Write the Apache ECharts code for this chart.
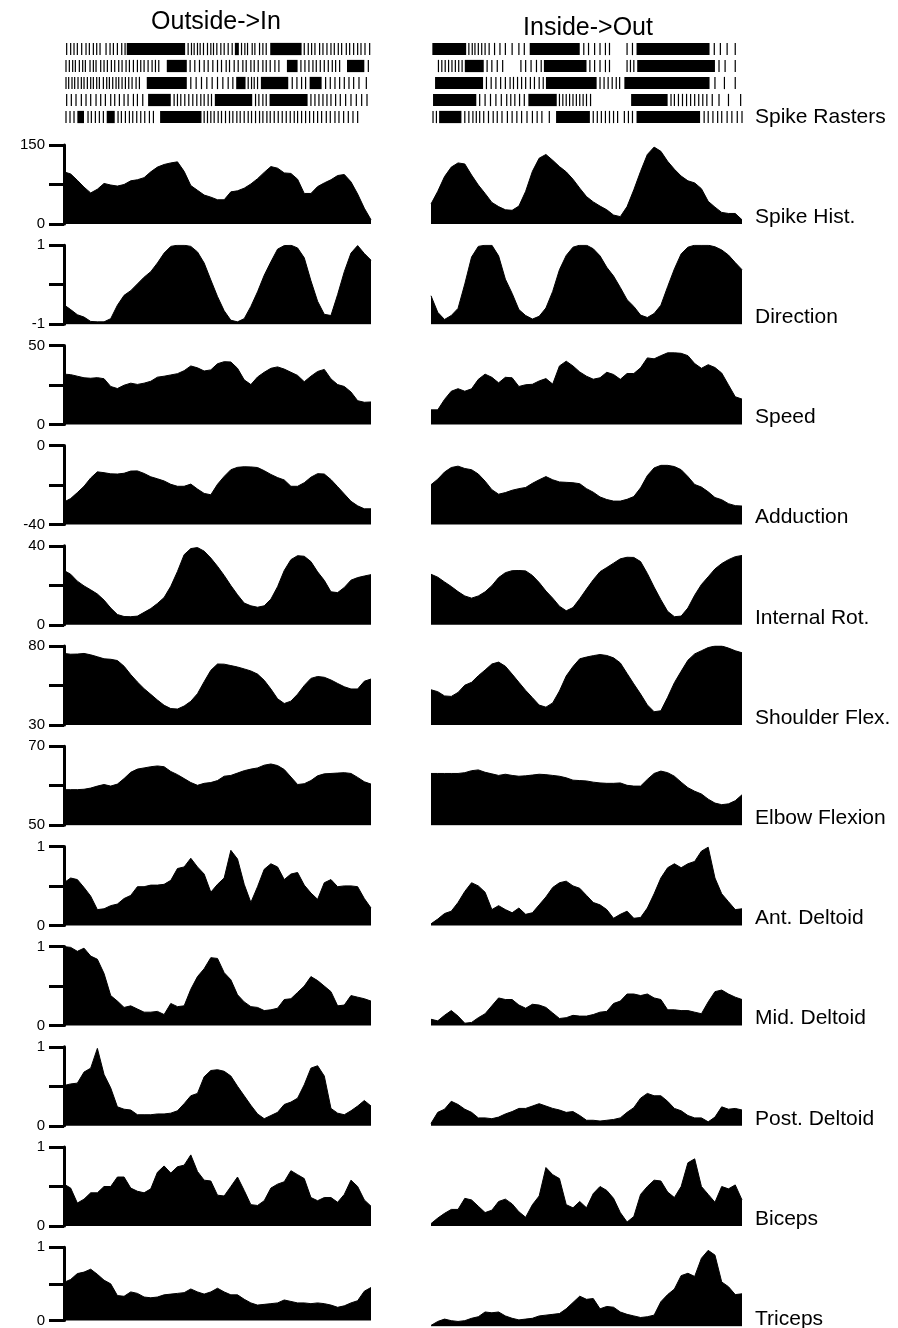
<!DOCTYPE html>
<html>
<head>
<meta charset="utf-8">
<script src="https://cdn.jsdelivr.net/npm/echarts@6/dist/echarts.min.js"></script>
<style>html,body{margin:0;background:#fff}#c{width:898px;height:1328px}</style>
</head>
<body>
<div id="c"></div>
<script>
// 两个方向的试次：oi = Outside->In（左列），io = Inside->Out（右列），每条曲线 47 个等距采样
const oiSpike = [99,95,83,70,59,66,77,74,72,75,82,84,88,99,108,113,116,118,100,73,64,55,51,46,46,61,63,68,76,86,98,109,106,97,96,85,58,58,71,78,84,92,94,80,57,30,8];
const ioSpike = [38,62,90,108,116,114,93,74,58,41,33,27,26,34,62,100,125,132,121,109,99,85,68,52,42,34,27,17,14,33,65,100,132,146,138,119,104,91,82,78,67,43,32,22,20,20,8];
const oiDir = [-0.51,-0.63,-0.76,-0.82,-0.93,-0.94,-0.94,-0.86,-0.52,-0.27,-0.15,0.02,0.19,0.33,0.55,0.8,0.97,1.0,1.0,0.97,0.83,0.55,0.12,-0.3,-0.66,-0.9,-0.94,-0.86,-0.55,-0.18,0.24,0.58,0.9,0.99,1.0,0.93,0.68,0.1,-0.42,-0.75,-0.78,-0.25,0.33,0.8,0.99,0.79,0.62];
const ioDir = [-0.28,-0.7,-0.88,-0.78,-0.6,0.02,0.7,0.97,1.0,1.0,0.73,0.14,-0.22,-0.63,-0.78,-0.87,-0.8,-0.59,-0.17,0.38,0.74,0.95,1.0,1.0,0.91,0.73,0.44,0.22,-0.07,-0.38,-0.55,-0.77,-0.83,-0.73,-0.52,-0.05,0.4,0.78,0.95,1.0,1.0,1.0,0.96,0.88,0.75,0.56,0.38];
const oiSpeed = [31.8,31.5,30.5,29.5,29.2,29.6,28.9,24,22.7,24.8,26.1,25.3,26.1,27.3,29.9,30.5,31.3,32.1,34,37,35.8,33.8,34.5,38.4,39.7,39.5,35.5,28.2,25.2,30,33,35.5,36.4,35,33,31,27,30.5,33.5,34.8,28.8,25.2,24,20.5,15,14,14.2];
const ioSpeed = [9.2,9.2,15.8,21,22.6,21,22.5,28.5,31.8,29.8,26.3,29.8,29.5,24,25.1,25.4,27.5,29,25.5,37,40,37,33.2,30.5,28.6,29.5,33,31.6,28.5,32.2,32.2,35.8,42.1,41.5,43.5,45.3,45.3,45,43.5,38.5,35.5,37.8,36,32.5,25,17.5,16];
const oiAdd = [-28.6,-26.8,-23.8,-20.6,-16.4,-13.3,-13.7,-14.3,-14.4,-14,-12.9,-12.8,-14.1,-15.8,-16.8,-17.9,-19.6,-20.6,-20.6,-19.5,-22,-24.2,-24.9,-19.6,-15.6,-12.2,-11,-10.7,-10.8,-11.1,-12.7,-14.6,-16.2,-17.4,-20.6,-20.6,-18.8,-16,-14.2,-14.4,-17.2,-20.8,-24.5,-28.2,-30.5,-32,-32];
const ioAdd = [-19.8,-17,-13.4,-11.1,-10.4,-11.6,-12.2,-14.4,-18,-22.3,-24.6,-23.8,-22.6,-21.8,-21.2,-19.1,-17.3,-15.7,-17.3,-18.4,-18.6,-18.8,-19.3,-21.8,-23.6,-26,-27.3,-28.1,-28.1,-27.2,-25.8,-21.4,-15.2,-11.3,-10,-10,-10.6,-12.2,-15.7,-19.7,-21,-23.4,-26.3,-27.4,-29.4,-30.4,-30.6];
const oiRot = [27.5,25.6,22.1,19.7,17.7,15.6,12.5,8.5,5.2,4.2,4.1,4.4,6.3,8.2,10.8,13.8,19.5,27,35.5,38.6,39.1,37.3,33.8,29.6,25,19.9,15.2,11,9.6,8.9,9.6,13,19.3,27.5,33,35,34.7,32,26.8,22.5,16.7,16.3,18.9,22.6,23.9,24.7,25.4];
const ioRot = [25.6,24.1,21.7,19.4,16.8,14.6,13.5,14.6,16.7,19.8,23.9,26.4,27.4,27.5,27.3,25,21.4,17.1,13.5,9.4,7.1,8.7,13.2,18.1,22.8,26.9,29,31.2,33.4,34.2,34.1,32,26,19.1,12.7,6.8,4.1,4.4,8.5,15,20.4,24.3,28.3,31,33,34.5,35.1];
const oiShoulder = [75.3,74.8,74.9,75.3,74.4,73.2,71.9,71.6,70.8,67.2,61.9,57.2,53,49.4,45.8,42.5,40.4,40.1,42,45,49.8,57.4,64.6,68.6,68.5,67.6,66.7,65.5,64.2,62.2,58.3,52.8,46.6,43.6,45.1,49.5,55,59.5,60.7,60.2,58.5,56.3,54.2,52.8,52.8,57.7,59.1];
const ioShoulder = [52.3,51.1,48.4,48.1,50.6,55.2,57,61.2,64.8,68.6,69.8,67.2,62.2,57,51.9,47.3,42.6,41.3,44,51.5,61,67,71.9,73,73.9,74.6,74,72.5,69.3,62.6,56,49.6,42.7,38.4,39,47.5,56.8,64,71,75,77,79,80,80,78.7,77,75.7];
const oiElbow = [59,59,59,59.1,59.4,59.9,60.3,59.9,60.4,61.8,63.4,64.2,64.5,64.8,65,64.8,63.6,62.8,61.8,60.8,60.1,60.6,60.8,61.3,62.4,62.6,63.2,63.8,64.2,64.5,65.2,65.5,65.1,64.1,62.2,60.3,60.5,61.3,62.5,63,63.1,63.2,63.3,63.1,62.1,61,60.4];
const ioElbow = [63.1,63.1,63.1,63.1,63.1,63.3,63.8,64,63.4,63,62.6,62.9,62.6,62.4,62.5,62.7,62.9,62.8,62.6,62.4,62,61.4,61.3,61.2,60.9,60.7,60.6,60.6,60.7,60.1,59.9,59.9,61.6,63.1,63.7,63.3,62.4,60.9,59.5,58.6,57.9,56.6,55.6,55.2,55.4,56.2,57.7];
const oiAnt = [0.54,0.6,0.58,0.48,0.37,0.2,0.21,0.25,0.27,0.34,0.38,0.49,0.49,0.51,0.51,0.52,0.57,0.72,0.74,0.85,0.74,0.65,0.42,0.52,0.6,0.95,0.84,0.52,0.29,0.49,0.71,0.78,0.74,0.58,0.65,0.67,0.51,0.41,0.33,0.54,0.58,0.49,0.5,0.5,0.49,0.34,0.22];
const ioAnt = [0.02,0.08,0.15,0.18,0.29,0.43,0.54,0.5,0.42,0.2,0.25,0.2,0.16,0.22,0.14,0.16,0.26,0.36,0.48,0.54,0.56,0.5,0.47,0.38,0.29,0.26,0.2,0.09,0.14,0.18,0.09,0.1,0.22,0.4,0.6,0.73,0.78,0.73,0.78,0.81,0.94,0.99,0.6,0.4,0.3,0.2,0.21];
const oiMid = [1.0,0.99,0.94,0.98,0.88,0.84,0.66,0.38,0.31,0.23,0.25,0.21,0.17,0.17,0.18,0.14,0.28,0.24,0.25,0.46,0.62,0.72,0.86,0.85,0.67,0.58,0.39,0.3,0.24,0.23,0.19,0.2,0.22,0.33,0.34,0.42,0.5,0.62,0.57,0.5,0.43,0.25,0.26,0.38,0.36,0.34,0.31];
const ioMid = [0.08,0.06,0.13,0.19,0.12,0.03,0.04,0.1,0.15,0.25,0.35,0.33,0.33,0.26,0.22,0.27,0.26,0.23,0.16,0.09,0.1,0.13,0.12,0.12,0.14,0.17,0.18,0.28,0.31,0.4,0.4,0.38,0.4,0.35,0.33,0.2,0.2,0.19,0.19,0.17,0.15,0.3,0.43,0.45,0.4,0.36,0.33];
const oiPost = [0.51,0.53,0.54,0.68,0.73,0.98,0.65,0.48,0.24,0.21,0.2,0.14,0.14,0.14,0.15,0.15,0.16,0.19,0.28,0.38,0.41,0.62,0.7,0.71,0.69,0.63,0.5,0.38,0.26,0.15,0.09,0.13,0.17,0.27,0.3,0.35,0.52,0.73,0.76,0.63,0.22,0.16,0.14,0.19,0.25,0.32,0.25];
const ioPost = [0.03,0.17,0.21,0.31,0.27,0.21,0.17,0.1,0.1,0.09,0.11,0.15,0.18,0.22,0.22,0.25,0.28,0.25,0.22,0.2,0.17,0.18,0.13,0.07,0.07,0.06,0.07,0.08,0.1,0.17,0.23,0.35,0.41,0.38,0.38,0.31,0.22,0.19,0.13,0.1,0.1,0.05,0.11,0.24,0.21,0.22,0.2];
const oiBic = [0.53,0.48,0.29,0.34,0.42,0.42,0.5,0.5,0.62,0.62,0.48,0.44,0.42,0.47,0.68,0.76,0.67,0.75,0.77,0.9,0.69,0.58,0.57,0.39,0.38,0.5,0.62,0.45,0.27,0.26,0.32,0.48,0.53,0.56,0.7,0.65,0.6,0.36,0.32,0.36,0.36,0.3,0.4,0.58,0.5,0.33,0.25];
const ioBic = [0.03,0.1,0.16,0.21,0.21,0.35,0.33,0.25,0.17,0.2,0.31,0.34,0.28,0.18,0.11,0.27,0.38,0.74,0.65,0.6,0.27,0.23,0.31,0.23,0.41,0.5,0.45,0.35,0.17,0.05,0.12,0.4,0.5,0.58,0.57,0.43,0.36,0.5,0.8,0.85,0.5,0.4,0.3,0.5,0.47,0.52,0.33];
const oiTri = [0.52,0.56,0.64,0.66,0.7,0.63,0.55,0.5,0.34,0.33,0.39,0.37,0.32,0.31,0.32,0.35,0.36,0.37,0.38,0.43,0.39,0.36,0.39,0.44,0.39,0.35,0.35,0.29,0.24,0.21,0.22,0.23,0.24,0.28,0.26,0.24,0.24,0.23,0.24,0.23,0.21,0.18,0.2,0.24,0.27,0.4,0.45];
const ioTri = [0.01,0.06,0.09,0.07,0.06,0.07,0.1,0.12,0.18,0.17,0.18,0.13,0.1,0.08,0.09,0.1,0.13,0.14,0.15,0.16,0.22,0.3,0.38,0.34,0.35,0.22,0.25,0.24,0.18,0.15,0.13,0.11,0.12,0.14,0.31,0.4,0.47,0.64,0.67,0.63,0.86,0.96,0.9,0.56,0.5,0.4,0.41];

// 行标签与纵轴刻度
const rowNames = ['Spike Hist.','Direction','Speed','Adduction','Internal Rot.','Shoulder Flex.','Elbow Flexion','Ant. Deltoid','Mid. Deltoid','Post. Deltoid','Biceps','Triceps'];
const rowMin  = [0,  -1, 0, -40, 0,  30, 50, 0,   0,   0,   0,   0];
const rowMax  = [150, 1, 50, 0,  40, 80, 70, 1,   1,   1,   1,   1];
const rowStep = [75,  1, 25, 20, 20, 25, 10, 0.5, 0.5, 0.5, 0.5, 0.5];
const oiRows = [oiSpike,oiDir,oiSpeed,oiAdd,oiRot,oiShoulder,oiElbow,oiAnt,oiMid,oiPost,oiBic,oiTri];
const ioRows = [ioSpike,ioDir,ioSpeed,ioAdd,ioRot,ioShoulder,ioElbow,ioAnt,ioMid,ioPost,ioBic,ioTri];

// 放电栅格：单个锋电位时刻（与曲线同一时间轴 0..46），以及密集成片的区段 [起, 止]
const oiSpikes = [
  [0.4,1.0,1.5,2.0,2.65,3.3,3.8,4.4,4.9,5.4,6.3,6.9,7.4,8.0,8.65,9.15,18.6,19.1,19.5,20.0,20.4,20.9,21.5,22.0,22.4,22.9,23.5,24.0,24.6,25.2,26.6,27.1,27.5,28.2,28.6,29.3,29.8,30.3,36.0,36.6,37.1,37.6,38.3,38.8,39.4,40.0,40.5,41.1,41.6,42.3,42.8,43.4,44.0,44.5,45.1,45.8],
  [0.3,0.8,1.3,1.7,2.3,2.8,3.2,3.9,4.4,4.8,5.5,6.0,6.5,7.1,7.6,8.2,8.7,9.3,9.8,10.4,11.0,11.5,12.0,12.6,13.2,13.7,14.2,18.9,19.6,20.3,21.0,21.6,22.3,23.0,23.6,24.3,24.8,25.5,26.1,26.8,27.3,28.0,28.5,29.1,29.8,30.3,30.9,31.6,32.2,35.5,36.1,36.7,37.3,37.8,38.4,39.0,39.6,40.2,40.7,41.3,45.6],
  [0.3,0.7,1.2,1.6,2.1,2.6,3.0,3.5,4.0,4.4,4.9,5.3,5.9,6.4,6.8,7.3,7.8,8.2,8.7,9.2,9.7,10.2,10.8,11.3,19.0,19.8,20.6,21.4,22.2,23.0,23.8,24.6,25.3,27.6,28.1,28.5,29.0,34.2,34.9,35.6,36.2,39.2,39.9,40.6,41.3,42.0,42.7,43.4,44.2,45.3],
  [0.4,1.1,1.8,2.6,3.3,4.0,4.8,5.5,6.2,7.0,7.6,8.3,9.0,9.6,10.4,11.0,11.8,16.5,17.0,17.5,18.1,18.7,19.3,19.9,20.5,21.0,21.6,22.1,28.7,29.2,29.8,30.3,37.0,37.6,38.2,38.8,39.4,40.0,40.7,41.4,42.2,43.0,43.8,44.6,45.4],
  [0.3,0.9,1.5,3.6,4.1,4.7,5.3,5.9,8.1,8.6,9.2,9.8,10.3,10.9,11.5,12.1,12.8,13.4,21.0,21.5,22.0,22.5,23.1,23.6,24.2,24.8,25.3,25.9,26.4,27.0,27.6,28.1,28.7,29.3,29.8,30.4,30.9,31.5,32.1,32.7,33.3,33.9,34.5,35.0,35.6,36.2,36.8,37.4,38.0,38.6,39.3,39.9,40.6,41.2,41.9,42.6,43.3,44.0]
];
const oiBursts = [
  [[9.4,18.15],[25.6,26.2],[30.9,35.6]],
  [[15.4,18.4],[33.4,35.0],[42.4,45.0]],
  [[12.4,18.4],[25.8,27.2],[29.5,33.6],[36.8,38.6]],
  [[12.6,16.0],[22.6,28.2],[30.8,36.5]],
  [[2.0,3.0],[6.4,7.6],[14.4,20.6]]
];
const ioSpikes = [
  [5.6,6.1,6.5,7.0,7.5,8.0,8.6,9.4,10.2,11.0,12.0,13.0,13.8,22.6,23.3,24.2,25.0,25.8,26.4,29.0,29.8,41.9,42.8,43.8,45.0],
  [1.1,1.6,2.1,2.6,3.1,3.6,4.1,4.6,8.3,9.0,9.8,10.6,13.3,14.0,14.8,15.6,16.3,23.5,24.2,25.0,25.8,26.4,29.0,29.5,30.0,42.6,43.5,45.0],
  [8.2,8.9,9.6,10.3,11.0,11.7,12.2,12.8,13.4,14.0,14.7,15.3,16.0,16.6,25.0,25.6,26.2,26.8,27.4,27.9,42.0,43.4,45.0],
  [7.2,8.0,8.8,9.6,10.4,11.2,11.8,12.4,13.1,13.8,19.0,19.5,20.0,20.5,21.0,21.5,22.0,22.5,23.0,23.6,35.5,36.0,36.6,37.2,37.8,38.4,39.0,39.6,40.2,40.8,41.6,42.6,44.0,45.8],
  [0.3,0.8,5.0,5.6,6.2,6.7,7.2,7.8,8.5,9.2,9.8,10.5,11.3,12.0,12.7,13.4,14.2,15.0,15.7,16.4,17.5,24.0,24.6,25.2,25.8,26.4,27.0,27.6,28.6,29.2,29.8,40.4,41.0,41.7,42.4,43.0,43.8,44.5,45.3,46.0]
];
const ioBursts = [
  [[0.2,5.2],[14.6,22.0],[30.4,41.2]],
  [[5.0,7.8],[16.7,23.0],[30.5,42.0]],
  [[0.6,7.7],[17.0,24.5],[28.6,41.2]],
  [[0.3,6.7],[14.4,18.6],[29.6,35.0]],
  [[1.2,4.5],[18.5,23.5],[30.4,39.8]]
];

const FONT = '"Liberation Sans", Arial, Helvetica, sans-serif';
const ROW_TOP = 145, ROW_GAP = 100.2, ROW_H = 79;
const LEFT_X = 64, LEFT_W = 307, RIGHT_X = 431, RIGHT_W = 311;
const LABEL_X = 755;
const idx = oiSpike.map((_, i) => i);

const grids = [], xAxes = [], yAxes = [], series = [], texts = [];

function addPanel(x, w, row, values, withAxis) {
  const g = grids.length;
  const min = rowMin[row], max = rowMax[row];
  grids.push({left: x, top: ROW_TOP + row * ROW_GAP, width: w, height: ROW_H});
  xAxes.push({gridIndex: g, type: 'category', data: idx, boundaryGap: false, show: false});
  yAxes.push({
    gridIndex: g, type: 'value', min: min, max: max, interval: rowStep[row], show: withAxis,
    axisLine: {show: true, onZero: false, lineStyle: {color: '#000', width: 3}},
    axisTick: {show: true, inside: false, length: 15, lineStyle: {color: '#000', width: 3}},
    axisLabel: {
      show: true, margin: 19, color: '#000', fontSize: 15, fontFamily: FONT,
      showMinLabel: true, showMaxLabel: true,
      formatter: v => (v === min || v === max) ? String(v) : ''
    },
    splitLine: {show: false}
  });
  series.push({
    type: 'line', xAxisIndex: g, yAxisIndex: g, data: values,
    symbol: 'none', lineStyle: {color: '#000', width: 1},
    areaStyle: {color: '#000', opacity: 1, origin: 'start'}, silent: true
  });
}

for (let r = 0; r < rowNames.length; r++) {
  addPanel(LEFT_X, LEFT_W, r, oiRows[r], true);
  addPanel(RIGHT_X, RIGHT_W, r, ioRows[r], false);
  texts.push({type: 'text', x: LABEL_X, y: ROW_TOP + r * ROW_GAP + ROW_H - 7,
    style: {text: rowNames[r], fontSize: 21, fontFamily: FONT, fill: '#000', verticalAlign: 'middle'}});
}

// 栅格图
function addRaster(x, w, spikes, bursts) {
  const g = grids.length;
  grids.push({left: x, top: 40.5, width: w, height: 85});
  xAxes.push({gridIndex: g, type: 'value', min: 0, max: 46, show: false});
  yAxes.push({gridIndex: g, type: 'value', min: 0, max: 5, inverse: true, show: false});
  const spikeData = [], burstData = [];
  spikes.forEach((trial, k) => trial.forEach(t => spikeData.push([t, k])));
  bursts.forEach((trial, k) => trial.forEach(b => burstData.push([b[0], b[1], k])));
  series.push({
    type: 'custom', xAxisIndex: g, yAxisIndex: g, data: spikeData, encode: {x: 0, y: 1}, silent: true,
    renderItem: (p, api) => {
      const c = api.coord([api.value(0), api.value(1) + 0.5]);
      const h = api.size([0, 1])[1] * 0.72;
      return {type: 'rect', shape: {x: c[0] - 0.6, y: c[1] - h / 2, width: 1.2, height: h}, style: {fill: '#000'}};
    }
  });
  series.push({
    type: 'custom', xAxisIndex: g, yAxisIndex: g, data: burstData, encode: {x: [0, 1], y: 2}, silent: true,
    renderItem: (p, api) => {
      const a = api.coord([api.value(0), api.value(2) + 0.5]);
      const b = api.coord([api.value(1), api.value(2) + 0.5]);
      const h = api.size([0, 1])[1] * 0.72;
      return {type: 'rect', shape: {x: a[0], y: a[1] - h / 2, width: b[0] - a[0], height: h}, style: {fill: '#000'}};
    }
  });
}
addRaster(LEFT_X, LEFT_W, oiSpikes, oiBursts);
addRaster(RIGHT_X, RIGHT_W, ioSpikes, ioBursts);

texts.push({type: 'text', x: LABEL_X, y: 117, style: {text: 'Spike Rasters', fontSize: 21, fontFamily: FONT, fill: '#000', verticalAlign: 'middle'}});
texts.push({type: 'text', x: 216, y: 22, style: {text: 'Outside->In', fontSize: 25, fontFamily: FONT, fill: '#000', align: 'center', verticalAlign: 'middle'}});
texts.push({type: 'text', x: 588, y: 28, style: {text: 'Inside->Out', fontSize: 25, fontFamily: FONT, fill: '#000', align: 'center', verticalAlign: 'middle'}});

const chart = echarts.init(document.getElementById('c'));
chart.setOption({
  animation: false,
  backgroundColor: '#fff',
  grid: grids, xAxis: xAxes, yAxis: yAxes, series: series,
  graphic: {elements: texts}
});
</script>
</body>
</html>
